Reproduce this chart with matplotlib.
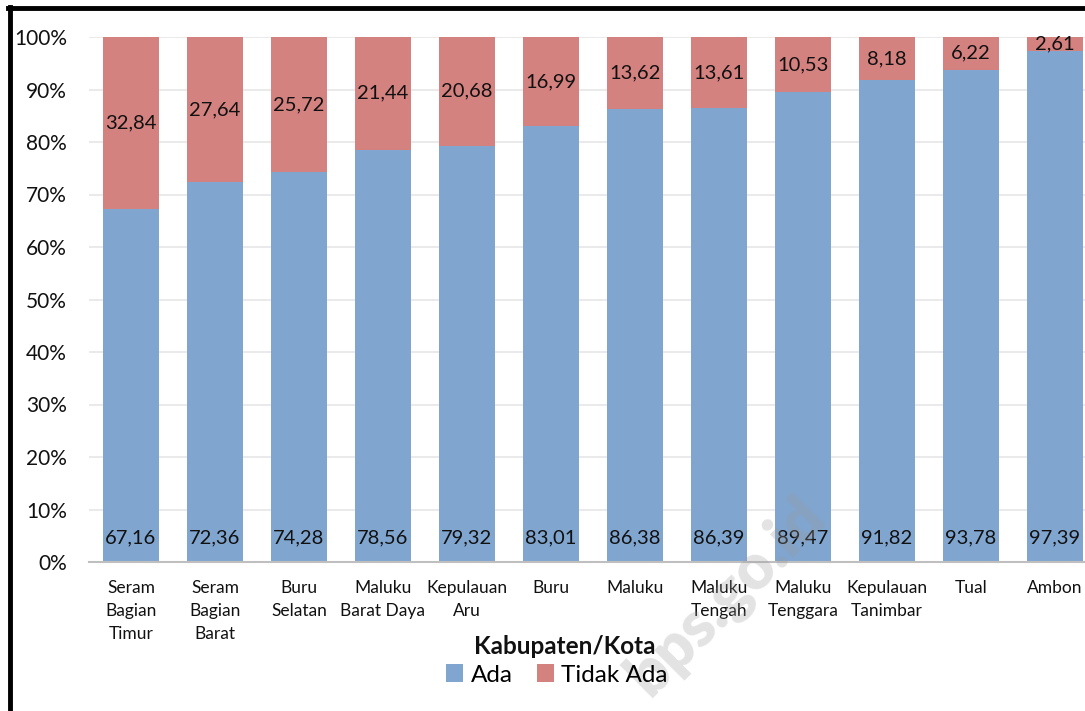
import matplotlib
matplotlib.use("Agg")
import matplotlib.pyplot as plt
from matplotlib.lines import Line2D
from matplotlib.patches import Patch
import numpy as np

categories = ["Seram\nBagian\nTimur", "Seram\nBagian\nBarat", "Buru\nSelatan",
              "Maluku\nBarat Daya", "Kepulauan\nAru", "Buru", "Maluku",
              "Maluku\nTengah", "Maluku\nTenggara", "Kepulauan\nTanimbar",
              "Tual", "Ambon"]
ada = [67.16, 72.36, 74.28, 78.56, 79.32, 83.01, 86.38, 86.39, 89.47, 91.82, 93.78, 97.39]
tidak_ada = [32.84, 27.64, 25.72, 21.44, 20.68, 16.99, 13.62, 13.61, 10.53, 8.18, 6.22, 2.61]
yticks = [0, 10, 20, 30, 40, 50, 60, 70, 80, 90, 100]

BLUE = "#80A5CF"
RED = "#D48280"
FONT = "Lato"

W, H = 1085, 711
fig = plt.figure(figsize=(W / 100, H / 100), dpi=100)
ax = fig.add_axes([89 / W, 1 - 562 / H, 1008 / W, 525 / H])

x = np.arange(len(categories))
bw = 0.66
ax.bar(x, ada, bw, color=BLUE, zorder=2)
ax.bar(x, tidak_ada, bw, bottom=ada, color=RED, zorder=2)

def fmt(v):
    return f"{v:.2f}".replace(".", ",")

for xi, a, t in zip(x, ada, tidak_ada):
    ax.text(xi, 4.6, fmt(a), ha="center", va="center", fontsize=14.5,
            family=FONT, color="#111111", zorder=4)
    ax.text(xi, a + t / 2, fmt(t), ha="center", va="center", fontsize=14.5,
            family=FONT, color="#111111", zorder=4)

ax.set_xlim(-0.5, len(categories) - 0.5)
ax.set_ylim(0, 100)
ax.set_yticks(yticks)
ax.set_yticklabels([f"{v}%" for v in yticks], fontsize=15, family=FONT)
ax.set_xticks(x)
ax.set_xticklabels(categories, fontsize=12.5, family=FONT, linespacing=1.52, va="top")
ax.tick_params(axis="both", length=0, colors="#111111")
ax.tick_params(axis="x", pad=13)
ax.tick_params(axis="y", pad=16)
ax.grid(axis="y", color="#E6E6E6", linewidth=1.2, zorder=0)
for s in ["top", "right", "left"]:
    ax.spines[s].set_visible(False)
ax.spines["bottom"].set_color("#BFBFBF")
ax.spines["bottom"].set_linewidth(1.5)
ax.spines["bottom"].set_zorder(3)

fig.text(565 / W, 1 - 647 / H, "Kabupaten/Kota", ha="center", va="center",
         fontsize=17.5, fontweight="bold", family=FONT, color="#111111")

handles = [Patch(facecolor=BLUE, label="Ada"), Patch(facecolor=RED, label="Tidak Ada")]
fig.legend(handles=handles, loc="center", bbox_to_anchor=(557 / W, 1 - 675 / H),
           ncol=2, frameon=False, prop={"family": FONT, "size": 17.5},
           handlelength=0.7, handleheight=0.7, handletextpad=0.3, columnspacing=1.0)

fig.text(726 / W, 1 - 596 / H, "bps.go.id", ha="center", va="center", rotation=45,
         fontsize=45, fontweight="heavy", family=FONT, color="#9A9A9A", alpha=0.28,
         zorder=3)

# frame lines along the left and top edges
fig.add_artist(Line2D([9.5 / W, 9.5 / W], [0, 1 - 7 / H], color="black", linewidth=3.5,
                      transform=fig.transFigure))
fig.add_artist(Line2D([8 / W, 1], [1 - 7.5 / H, 1 - 7.5 / H], color="black", linewidth=3.5,
                      transform=fig.transFigure))

fig.savefig("out.png", dpi=100)
